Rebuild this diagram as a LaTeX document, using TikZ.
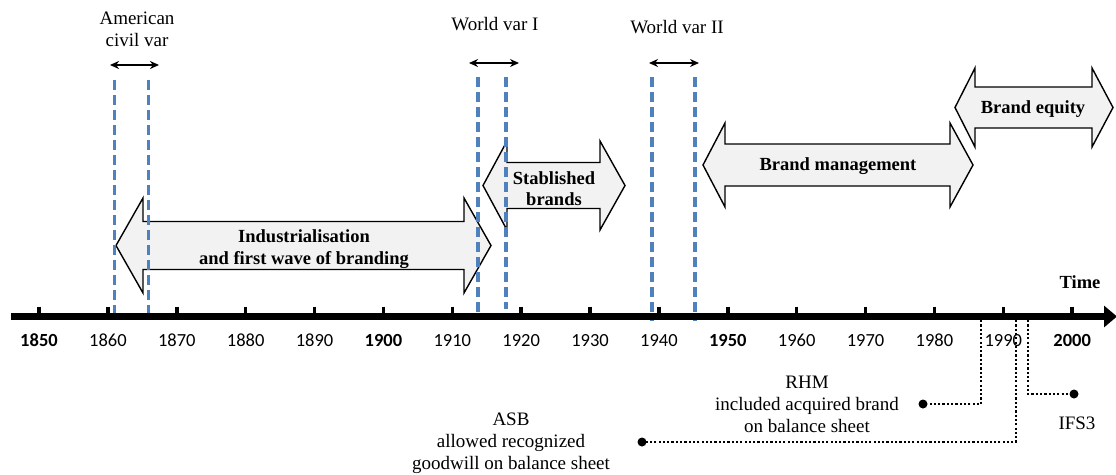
\documentclass[tikz,border=0pt]{standalone}
\usepackage{fontspec}
\setmainfont{Liberation Serif}
\newfontfamily\yearfont{Carlito}
\usetikzlibrary{arrows.meta}
\definecolor{warblue}{RGB}{79,129,189}
\definecolor{arrowfill}{RGB}{242,242,242}

% double-headed block arrow: left tip, left head base, right head base, right tip, mid y, head half-height, shaft half-height
\newcommand\dblarrow[7]{%
  \draw[blockarrow] (#1,#5) -- (#2,{#5-#6}) -- (#2,{#5-#7}) -- (#3,{#5-#7}) -- (#3,{#5-#6})
    -- (#4,#5) -- (#3,{#5+#6}) -- (#3,{#5+#7}) -- (#2,{#5+#7}) -- (#2,{#5+#6}) -- cycle;}

\tikzset{
  blockarrow/.style={fill=arrowfill, draw=black, line width=1.4pt, line join=miter},
  warline/.style={draw=warblue, line width=3.6pt, dash pattern=on 10pt off 5pt},
  span/.style={line width=1.7pt, {Stealth[length=9pt,width=8pt]}-{Stealth[length=9pt,width=8pt]}},
  tick/.style={line width=3.5pt},
  year/.style={inner sep=0pt, font=\yearfont\fontsize{18.5}{20}\selectfont},
  label/.style={inner sep=0pt, align=center, font=\fontsize{19}{22}\selectfont},
  blabel/.style={inner sep=0pt, align=center, font=\bfseries\fontsize{18.5}{21.5}\selectfont},
  dotline/.style={line width=2.2pt, dash pattern=on 2.2pt off 2.1pt},
  dot/.style={circle, fill=black, inner sep=0pt, minimum size=9pt}
}

\begin{document}
\begin{tikzpicture}[x=1pt, y=-1pt]
\useasboundingbox (0,0) rectangle (1116,474);

% periods as block arrows
\dblarrow{116}{143}{464}{491}{245.5}{47.5}{24}
\dblarrow{483}{507}{600}{625}{185.5}{44.5}{23}
\dblarrow{703}{725}{950}{973}{165}{42}{21}
\dblarrow{955}{975}{1092}{1113}{107.5}{39.5}{20.5}

\node[blabel] (ind) at (304,249) {Industrialisation\\and first wave of branding};
\node[blabel] (sta) at (554,188.5) {Stablished\\brands};
\node[blabel] (bm) at (838,166) {Brand management};
\node[blabel] (be) at (1033,109) {Brand equity};

% war periods
\draw[warline] (114.5,80) -- (114.5,318);
\draw[warline] (148.5,80) -- (148.5,318);
\draw[warline] (478,77) -- (478,313);
\draw[warline] (506,77) -- (506,309);
\draw[warline] (652,77) -- (652,321);
\draw[warline] (695,77) -- (695,321);

\node[label] (cw) at (137,29.5) {American\\civil var};
\node[label] (w1) at (495,24) {World var I};
\node[label] (w2) at (677,27) {World var II};

\coordinate (cwL) at (110,65);  \coordinate (cwR) at (159,65);
\coordinate (w1L) at (469,63);  \coordinate (w1R) at (519,63);
\coordinate (w2L) at (649,63);  \coordinate (w2R) at (699,63);
\draw[span] (cwL) -- (cwR);
\draw[span] (w1L) -- (w1R);
\draw[span] (w2L) -- (w2R);

% time axis
\coordinate (ax0) at (11,316.5);
\coordinate (ax1) at (1117,316.5);
\draw[line width=7pt, -{Triangle[length=13pt,width=21pt]}] (ax0) -- (ax1);
\foreach \yr/\fnt in {1850/\bfseries,1860/,1870/,1880/,1890/,1900/\bfseries,1910/,1920/,1930/,1940/,1950/\bfseries,1960/,1970/,1980/,1990/,2000/\bfseries}{
  \pgfmathsetmacro\xx{39+(\yr-1850)*6.888}
  \draw[tick] (\xx,306.5) -- (\xx,314);
  \node[year, font=\yearfont\fnt\fontsize{18.5}{20}\selectfont] (y\yr) at (\xx,340.5) {\yr};
}
\node[inner sep=0pt, font=\bfseries\fontsize{18.5}{20}\selectfont] (time) at (1080,282) {Time};

% accounting milestones
\coordinate (rTop) at (981,320);
\coordinate (aTop) at (1016,320);
\coordinate (iTop) at (1028,320);
\node[dot] (rDot) at (923,404) {};
\node[dot] (aDot) at (642,442) {};
\node[dot] (iDot) at (1074,394) {};
\draw[dotline] (rTop) |- (rDot.center);
\draw[dotline] (aTop) |- (aDot.center);
\draw[dotline] (iTop) |- (iDot.center);

\node[label] (rhm) at (807,404) {RHM\\included acquired brand\\on balance sheet};
\node[label] (asb) at (511,443.5) {ASB\\allowed recognized\\goodwill on balance sheet};
\node[label] (ifs) at (1077,423) {IFS3};
\end{tikzpicture}
\end{document}
